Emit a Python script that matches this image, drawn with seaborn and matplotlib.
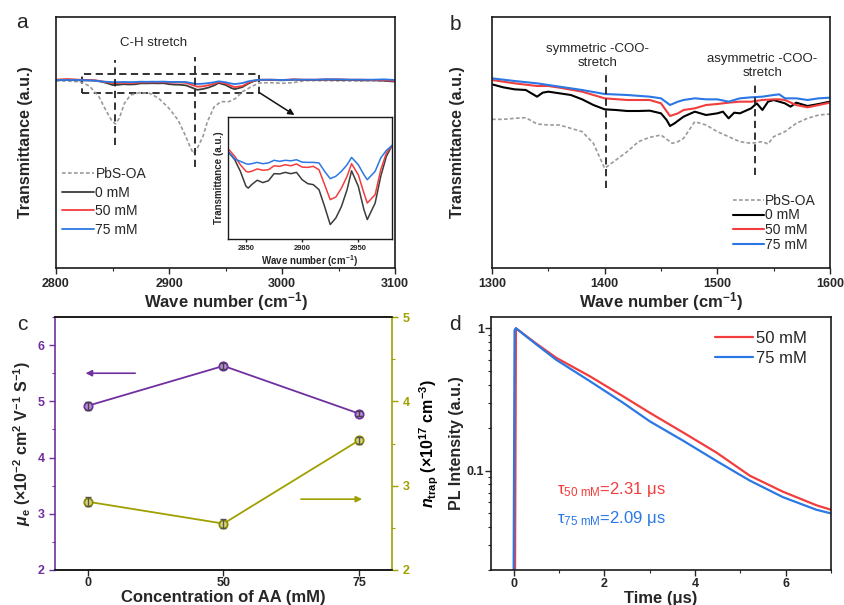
import numpy as np
import pandas as pd
import matplotlib
matplotlib.use("Agg")
import matplotlib.pyplot as plt
from matplotlib.patches import Rectangle
from matplotlib.ticker import MultipleLocator, NullFormatter
import seaborn as sns

# ---------------- (a) FTIR, C-H stretching region ----------------
ch_wn = [2800, 2810, 2820, 2830, 2835, 2840, 2845, 2850, 2852, 2855,
         2860, 2865, 2870, 2875, 2880, 2885, 2890, 2895, 2900, 2905,
         2910, 2915, 2920, 2925, 2930, 2935, 2940, 2944, 2950, 2955,
         2958, 2965, 2970, 2975, 2980, 2990, 3000, 3010, 3020, 3030,
         3040, 3050, 3060, 3070, 3080, 3090, 3100]
ch_0mM = [759, 760, 759, 758.5, 757.8, 755.2, 750.8, 745.1, 744.4, 745.7,
          747.4, 746.5, 747.2, 749.9, 749.8, 750.4, 749.9, 750.4, 747.6, 746.1,
          745.7, 743.8, 737.4, 730.5, 733.0, 737.4, 743.8, 751.0, 745.1, 736.2,
          732.4, 738.7, 748.9, 756.5, 760.6, 760, 759, 761, 760, 760,
          761, 760, 760, 759, 759, 758, 755]
ch_50mM = [761, 763, 761, 760, 759.0, 756.5, 753.3, 750.8, 750.5, 750.8,
           751.7, 751.2, 751.4, 752.9, 752.7, 753.3, 752.9, 753.6, 752.4, 752.3,
           752.7, 751.4, 745.7, 740.0, 741.0, 744.4, 748.9, 753.7, 749.5, 742.5,
           738.7, 741.9, 751.4, 757.8, 760.6, 761, 760, 762, 761, 761,
           762, 762, 761, 761, 760, 760, 757]
ch_75mM = [760, 760, 760, 759, 758.0, 755.5, 754.6, 753.7, 753.5, 753.7,
           754.2, 753.7, 754.0, 755.0, 754.6, 755.0, 754.8, 755.2, 754.3, 754.2,
           754.2, 754.0, 750.8, 748.0, 748.9, 750.8, 753.3, 756.1, 753.3, 749.5,
           747.6, 750.8, 755.9, 758.8, 760.6, 761, 760, 761, 761, 761,
           762, 762, 761, 761, 761, 762, 760]
ch_oa_wn = [2800, 2821, 2829.5, 2838, 2844, 2849, 2852.5, 2856, 2860.5, 2866,
            2874, 2883, 2891, 2900, 2908, 2913.6, 2918, 2921.5, 2925, 2930,
            2934, 2940, 2946, 2953, 2959, 2965, 2974, 2980, 2990, 3000,
            3010, 3020, 3040, 3060, 3080, 3100]
ch_oa = [758, 755, 742, 710, 670, 640, 628, 645, 690, 715,
         722, 720, 705, 675, 640, 600, 565, 540, 555, 590,
         635, 680, 695, 695, 705, 725, 742, 751, 752, 750,
         752, 758, 758, 757, 758, 757]
ch_peaks = [2852, 2923]

# ---------------- (b) FTIR, carboxylate region ----------------
coo_wn_0mM = [1300, 1310, 1320, 1330, 1340, 1345, 1350, 1360, 1370, 1380,
              1390, 1400, 1410, 1420, 1430, 1440, 1450, 1455, 1458, 1462,
              1470, 1480, 1490, 1500, 1505, 1510, 1515, 1520, 1530, 1535,
              1540, 1545, 1550, 1560, 1565, 1570, 1580, 1590, 1600]
coo_0mM = [747, 738, 732, 730, 710, 722, 725, 720, 715, 702,
           685, 672, 670, 667, 667, 668, 660, 640, 622, 630,
           650, 665, 655, 660, 665, 645, 662, 660, 675, 690,
           670, 695, 700, 690, 680, 692, 682, 688, 695]
coo_wn = [1300, 1320, 1340, 1350, 1360, 1380, 1400, 1420, 1440, 1450,
          1458, 1465, 1470, 1480, 1490, 1500, 1510, 1520, 1530, 1540,
          1550, 1555, 1560, 1570, 1580, 1590, 1600]
coo_50mM = [760, 750, 742, 742, 737, 725, 705, 700, 700, 690,
            652, 660, 670, 675, 685, 688, 692, 695, 695, 700,
            702, 702, 700, 685, 678, 685, 692]
coo_75mM = [765, 757, 750, 745, 740, 730, 718, 715, 710, 705,
            685, 695, 700, 705, 702, 702, 695, 705, 708, 710,
            715, 717, 705, 705, 700, 705, 707]
coo_oa_wn = [1300, 1310, 1320, 1330, 1340, 1350, 1360, 1370, 1380, 1390,
             1400, 1410, 1420, 1430, 1440, 1450, 1460, 1465, 1470, 1480,
             1490, 1500, 1510, 1520, 1530, 1540, 1545, 1550, 1560, 1570,
             1580, 1590, 1600]
coo_oa = [642, 642, 645, 647, 628, 625, 625, 615, 605, 570,
          495, 520, 545, 575, 588, 595, 570, 575, 585, 635,
          625, 605, 590, 575, 570, 575, 568, 590, 605, 630,
          645, 655, 658]
coo_peaks = [1401, 1533]

# ---------------- (c) mobility and trap density ----------------
aa_conc = ["0", "50", "75"]
mobility = [4.92, 5.63, 4.78]
mobility_err = [0.07, 0.06, 0.04]
n_trap = [2.81, 2.55, 3.54]
n_trap_err = [0.05, 0.05, 0.04]

# ---------------- (d) transient PL ----------------
pl50_t = [0.03, 0.05, 0.5, 0.94, 1.68, 2.41, 3.0, 3.74, 4.47, 5.21, 5.94, 6.68, 7.0]
pl50 = [0.02, 1.0, 0.78, 0.62, 0.46, 0.333, 0.255, 0.185, 0.134, 0.092, 0.071, 0.057, 0.053]
pl75_t = [0.0, 0.02, 0.05, 0.5, 0.94, 1.68, 2.41, 3.0, 3.74, 4.47, 4.95, 5.21, 5.94, 6.68, 7.0]
pl75 = [0.02, 0.97, 1.0, 0.77, 0.60, 0.425, 0.30, 0.222, 0.162, 0.117, 0.095, 0.085, 0.065, 0.053, 0.050]
tau_labels = ["50", "75"]
tau_values = [2.31, 2.09]

# ---------------- style ----------------
sns.set_theme(style="ticks", context="paper")
plt.rcParams.update({
    "font.family": ["Liberation Sans", "DejaVu Sans"],
    "mathtext.fontset": "custom",
    "mathtext.rm": "Liberation Sans",
    "mathtext.it": "Liberation Sans:bold:italic",
    "mathtext.bf": "Liberation Sans:bold",
    "axes.linewidth": 1.2,
    "axes.edgecolor": "#1a1a1a",
    "xtick.major.width": 1.0, "ytick.major.width": 1.0,
    "xtick.minor.width": 0.8, "ytick.minor.width": 0.8,
    "xtick.major.size": 4, "ytick.major.size": 4,
    "xtick.minor.size": 2.5, "ytick.minor.size": 2.5,
    "xtick.direction": "out", "ytick.direction": "out",
})

RED = "#F23D3D"
BLUE = "#2B78E4"
GRAY = "#9a9a9a"
PURPLE = "#7030A0"
OLIVE = "#A0A000"
DASH = (0, (4, 2.5))
OA_DASH = (0, (2.2, 1.4))

fig = plt.figure(figsize=(8.45, 6.05), dpi=100)
W, H = 845, 605


def box(l, t, r, b):
    return [l / W, 1 - b / H, (r - l) / W, (b - t) / H]


def bold_ticklabels(ax, size=9, color=None):
    for lab in ax.get_xticklabels() + ax.get_yticklabels():
        lab.set_fontweight("bold")
        lab.set_fontsize(size)
        if color is not None:
            lab.set_color(color)


def line(ax, x, y, **kw):
    df = pd.DataFrame({"x": x, "y": y})
    sns.lineplot(data=df, x="x", y="y", ax=ax, sort=False, estimator=None, **kw)


# ---------- panel a ----------
ax_a = fig.add_axes(box(56, 17, 395, 268))
line(ax_a, ch_oa_wn, ch_oa, color=GRAY, linestyle=OA_DASH, lw=1.2, label="PbS-OA")
line(ax_a, ch_wn, ch_0mM, color="#3c3c3c", lw=1.3, label="0 mM")
line(ax_a, ch_wn, ch_50mM, color=RED, lw=1.3, label="50 mM")
line(ax_a, ch_wn, ch_75mM, color=BLUE, lw=1.3, label="75 mM")
ax_a.set_xlim(2800, 3100)
ax_a.set_ylim(196, 949)
ax_a.set_yticks([])
ax_a.set_xticks([2800, 2900, 3000, 3100])
ax_a.xaxis.set_minor_locator(MultipleLocator(50))
bold_ticklabels(ax_a)
ax_a.set_xlabel("Wave number (cm$^{\\mathbf{-1}}$)", fontsize=12, fontweight="bold")
ax_a.set_ylabel("Transmittance (a.u.)", fontsize=11.5, fontweight="bold")
ax_a.xaxis.set_label_coords(0.5, -0.088)
ax_a.yaxis.set_label_coords(-0.068, 0.5)
ax_a.plot([ch_peaks[0]] * 2, [565, 820], color="#222222", ls=DASH, lw=1.3)
ax_a.plot([ch_peaks[1]] * 2, [500, 830], color="#222222", ls=DASH, lw=1.3)
ax_a.add_patch(Rectangle((2823, 722), 157, 56, fill=False, ec="#222222", ls=DASH, lw=1.3))
ax_a.annotate("", xy=(3011, 655), xytext=(2980, 722),
              arrowprops=dict(arrowstyle="-|>", color="#111111", lw=1.1,
                              mutation_scale=9, shrinkA=0, shrinkB=0))
ax_a.text(2886, 871, "C-H stretch", ha="center", va="center", fontsize=9.5)
ax_a.legend(loc="upper left", bbox_to_anchor=(0.018, 0.402), frameon=False,
            fontsize=10, handlelength=2.3, handletextpad=0.1, labelspacing=0.33,
            borderpad=0, borderaxespad=0)

# inset
ax_in = fig.add_axes(box(228, 117, 392, 239))
line(ax_in, ch_wn, ch_0mM, color="#3c3c3c", lw=1.1)
line(ax_in, ch_wn, ch_50mM, color=RED, lw=1.1)
line(ax_in, ch_wn, ch_75mM, color=BLUE, lw=1.1)
ax_in.set_xlim(2834, 2980)
ax_in.set_ylim(725, 771.5)
ax_in.set_yticks([])
ax_in.set_xticks([2850, 2900, 2950])
ax_in.tick_params(axis="x", length=2.5, pad=1.5)
bold_ticklabels(ax_in, size=5.5)
ax_in.set_xlabel("Wave number (cm$^{\\mathbf{-1}}$)", fontsize=7, fontweight="bold", labelpad=1)
ax_in.set_ylabel("Transmittance (a.u.)", fontsize=7, fontweight="bold", labelpad=3)
for sp in ax_in.spines.values():
    sp.set_linewidth(1.0)

# ---------- panel b ----------
ax_b = fig.add_axes(box(492, 17, 830, 268))
line(ax_b, coo_oa_wn, coo_oa, color=GRAY, linestyle=OA_DASH, lw=1.2, label="PbS-OA")
line(ax_b, coo_wn_0mM, coo_0mM, color="black", lw=1.5, label="0 mM")
line(ax_b, coo_wn, coo_50mM, color=RED, lw=1.5, label="50 mM")
line(ax_b, coo_wn, coo_75mM, color=BLUE, lw=1.5, label="75 mM")
ax_b.set_xlim(1300, 1600)
ax_b.set_ylim(196, 949)
ax_b.set_yticks([])
ax_b.set_xticks([1300, 1400, 1500, 1600])
ax_b.xaxis.set_minor_locator(MultipleLocator(50))
bold_ticklabels(ax_b)
ax_b.set_xlabel("Wave number (cm$^{\\mathbf{-1}}$)", fontsize=12, fontweight="bold")
ax_b.set_ylabel("Transmittance (a.u.)", fontsize=11.5, fontweight="bold")
ax_b.xaxis.set_label_coords(0.5, -0.088)
ax_b.yaxis.set_label_coords(-0.08, 0.5)
ax_b.plot([coo_peaks[0]] * 2, [435, 775], color="#222222", ls=DASH, lw=1.3)
ax_b.plot([coo_peaks[1]] * 2, [475, 745], color="#222222", ls=DASH, lw=1.3)
ax_b.text(1394, 832, "symmetric -COO-\nstretch", ha="center", va="center",
          fontsize=9.5, linespacing=1.3)
ax_b.text(1540, 802, "asymmetric -COO-\nstretch", ha="center", va="center",
          fontsize=9.5, linespacing=1.3)
ax_b.legend(loc="upper left", bbox_to_anchor=(0.713, 0.296), frameon=False,
            fontsize=10, handlelength=2.2, handletextpad=0.1, labelspacing=0.05,
            borderpad=0, borderaxespad=0)

# ---------- panel c ----------
ax_c = fig.add_axes(box(55, 317, 392, 570))
pos = np.arange(len(aa_conc))
sns.lineplot(x=pos, y=mobility, ax=ax_c, color=PURPLE, lw=1.3, marker="o",
             markersize=6, markerfacecolor="#b48fd0", markeredgecolor=PURPLE,
             markeredgewidth=1.3)
ax_c.errorbar(pos, mobility, yerr=mobility_err, fmt="none", ecolor="#444444",
              elinewidth=1.0, capsize=2.5, capthick=1.0)
ax_c.set_xlim(-0.24, 2.24)
ax_c.set_ylim(2, 6.5)
ax_c.set_xticks(pos, aa_conc)
ax_c.set_yticks([2, 3, 4, 5, 6])
ax_c.yaxis.set_minor_locator(MultipleLocator(0.5))
ax_c.tick_params(axis="x", pad=1)
bold_ticklabels(ax_c)
for lab in ax_c.get_yticklabels():
    lab.set_color(PURPLE)
ax_c.tick_params(axis="y", colors=PURPLE, which="both")
ax_c.tick_params(axis="y", labelcolor=PURPLE)
ax_c.spines["left"].set_color(PURPLE)
ax_c.spines["right"].set_visible(False)
ax_c.set_xlabel("Concentration of AA (mM)", fontsize=12, fontweight="bold")
ax_c.xaxis.set_label_coords(0.5, -0.079)
ax_c.set_ylabel("$\\mu_\\mathbf{e}$ (×10$^{\\mathbf{-2}}$ cm$^{\\mathbf{2}}$ V$^{\\mathbf{-1}}$ S$^{\\mathbf{-1}}$)",
                fontsize=11.5, fontweight="bold")
ax_c.yaxis.set_label_coords(-0.065, 0.5)
ax_c.annotate("", xy=(-0.015, 5.5), xytext=(0.35, 5.5),
              arrowprops=dict(arrowstyle="-|>", color=PURPLE, lw=1.2,
                              mutation_scale=9, shrinkA=0, shrinkB=0))

ax_c2 = ax_c.twinx()
sns.lineplot(x=pos, y=n_trap, ax=ax_c2, color=OLIVE, lw=1.3, marker="o",
             markersize=6, markerfacecolor="#d6d680", markeredgecolor="#8a8a00",
             markeredgewidth=1.3)
ax_c2.errorbar(pos, n_trap, yerr=n_trap_err, fmt="none", ecolor="#555555",
               elinewidth=1.0, capsize=2.5, capthick=1.0)
ax_c2.set_ylim(2, 5)
ax_c2.set_yticks([2, 3, 4, 5])
ax_c2.yaxis.set_minor_locator(MultipleLocator(0.5))
bold_ticklabels(ax_c2, color=OLIVE)
ax_c2.tick_params(axis="y", colors=OLIVE, which="both")
ax_c2.tick_params(axis="y", labelcolor=OLIVE)
ax_c2.spines["right"].set_color(OLIVE)
ax_c2.spines["left"].set_visible(False)
ax_c2.set_ylabel("$n_\\mathbf{trap}$ (×10$^{\\mathbf{17}}$ cm$^{\\mathbf{-3}}$)",
                 fontsize=11.5, fontweight="bold", color="black")
ax_c2.yaxis.set_label_coords(1.077, 0.5)
ax_c2.annotate("", xy=(2.02, 2.84), xytext=(1.57, 2.84),
               arrowprops=dict(arrowstyle="-|>", color=OLIVE, lw=1.2,
                               mutation_scale=9, shrinkA=0, shrinkB=0))

# ---------- panel d ----------
ax_d = fig.add_axes(box(491, 317, 831, 570))
line(ax_d, pl50_t, pl50, color=RED, lw=1.6, label="50 mM")
line(ax_d, pl75_t, pl75, color=BLUE, lw=1.6, label="75 mM")
ax_d.set_yscale("log")
ax_d.set_xlim(-0.5, 7)
ax_d.set_ylim(0.02, 1.2)
ax_d.set_xticks([0, 2, 4, 6])
ax_d.xaxis.set_minor_locator(MultipleLocator(1))
ax_d.set_yticks([0.1, 1], ["0.1", "1"])
ax_d.yaxis.set_minor_formatter(NullFormatter())
ax_d.tick_params(axis="y", which="both", pad=1)
ax_d.tick_params(axis="x", pad=2)
bold_ticklabels(ax_d)
ax_d.set_xlabel("Time (μs)", fontsize=12, fontweight="bold")
ax_d.set_ylabel("PL Intensity (a.u.)", fontsize=11.5, fontweight="bold")
ax_d.xaxis.set_label_coords(0.5, -0.082)
ax_d.yaxis.set_label_coords(-0.078, 0.5)
ax_d.legend(loc="upper right", bbox_to_anchor=(0.928, 0.945), frameon=False,
            fontsize=12, handlelength=2.3, handletextpad=0.15, labelspacing=0.3,
            borderpad=0, borderaxespad=0)
for lab, tau, col, yv in zip(tau_labels, tau_values, [RED, BLUE], [0.073, 0.046]):
    ax_d.text(0.95, yv, "τ$_\\mathrm{" + lab + "\\ mM}$=" + f"{tau:.2f} μs",
              color=col, fontsize=12, ha="left", va="center")

# panel letters
for letter, (px, py) in zip("abcd", [(22, 23), (455, 25), (22, 325), (455, 325)]):
    fig.text(px / W, 1 - py / H, letter, fontsize=15, ha="center", va="center")

fig.savefig("out.png", dpi=100)
